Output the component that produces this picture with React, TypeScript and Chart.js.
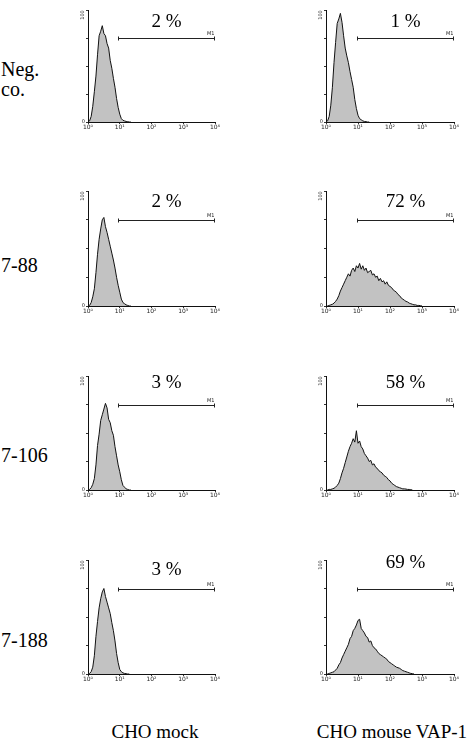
import React, { useEffect, useRef } from "react";
import { Chart, registerables } from "chart.js";

Chart.register(...registerables);

// ---- data ----
// channel bins: one value every binStep decades, starting at 10^0
const binStep = 0.05;
const xTickLabels = ["10⁰", "10¹", "10²", "10³", "10⁴"];
const yTickLabelTop = "100";
const gateLabel = "M1";
const gateStartDecade = 0.96;
const gateEndDecade = 4;
const gateLevel = 75;

const negCoMock = [0, 1, 5, 14, 27, 41, 60, 77, 81, 86, 79, 77, 70, 66, 55, 48, 39, 31, 21, 13, 7, 3, 1.5, 1, 0.5, 0.3, 0, 0];
const negCoVap = [0, 1, 5, 15, 31, 53, 71, 88, 92, 97, 89, 77, 66, 59, 53, 45, 38, 31, 20, 12, 6, 3, 2, 1, 0.5, 0.3, 0, 0];
const mab788Mock = [0, 0.5, 3, 8, 15, 29, 45, 58, 67, 75, 77, 69, 64, 58, 52, 46, 40, 33, 25, 18, 12, 6, 3, 2, 1, 0.5, 0, 0];
const mab788Vap = [0, 0, 0.5, 1, 1.5, 2.5, 4, 6, 9, 13, 16, 19, 22, 25, 28, 26, 31, 33, 30, 35, 33, 37, 32, 35, 31, 33, 29, 30, 31, 27, 28, 25, 26, 22, 24, 21, 22, 19, 21, 18, 17, 16, 14, 13, 12, 10, 9, 7, 6, 5, 4, 3.5, 2.5, 2, 1.5, 1, 1, 0.5, 0.5, 0.3, 0];
const mab7106Mock = [0, 0.5, 2, 5, 10, 22, 39, 49, 61, 66, 71, 76, 72, 62, 59, 52, 48, 38, 30, 22, 16, 9, 4, 2.5, 1, 0.5, 0, 0];
const mab7106Vap = [0, 0, 0.5, 0.5, 1, 1.5, 2.5, 4, 6, 10, 15, 19, 24, 29, 34, 38, 41, 45, 42, 52, 41, 43, 38, 36, 32, 30, 28, 25, 26, 22, 23, 20, 19, 17, 16, 15, 13, 12, 11, 9, 8, 6, 5, 4, 3, 2.5, 2, 1.5, 1, 1, 0.8, 0.5, 0.5, 0.3, 0];
const mab7188Mock = [0, 0.5, 2, 6, 16, 33, 46, 58, 66, 72, 75, 68, 63, 58, 53, 45, 38, 29, 18, 10, 4, 2, 1, 0.5, 0.3, 0, 0];
const mab7188Vap = [0, 0, 0.5, 1, 1.5, 2, 3.5, 5, 8, 10, 14, 17, 20, 23, 26, 31, 33, 38, 40, 43, 47, 48, 40, 38, 36, 33, 32, 28, 29, 25, 23, 22, 20, 18, 17, 16, 15, 14, 13, 11, 10, 9, 8, 7, 6, 5.5, 5, 4, 3, 2.5, 2, 1.5, 1, 0.5, 0.3, 0];

const rowLabels = [["Neg.", "co."], ["7-88"], ["7-106"], ["7-188"]];
const colLabels = ["CHO mock", "CHO mouse VAP-1"];
const panelSeries = [
  [negCoMock, negCoVap],
  [mab788Mock, mab788Vap],
  [mab7106Mock, mab7106Vap],
  [mab7188Mock, mab7188Vap],
];
const panelPercents = [
  ["2 %", "1 %"],
  ["2 %", "72 %"],
  ["3 %", "58 %"],
  ["3 %", "69 %"],
];
const percentLevels = [
  [89, 89],
  [90, 90],
  [94, 94],
  [91, 97],
];

// ---- layout (pixels of the plot areas) ----
const colLeft = [88, 326];
const colRight = [215, 454];
const rowTop = [10, 191, 376, 560];
const rowBottom = [122, 306, 490, 674];
const padL = 4, yAxisW = 12, padT = 24, padR = 12, xAxisH = 12, padB = 2;

function Panel({ row, col }: { row: number; col: number }) {
  const ref = useRef<HTMLCanvasElement | null>(null);
  const w = colRight[col] - colLeft[col] + padL + yAxisW + padR;
  const h = rowBottom[row] - rowTop[row] + padT + xAxisH + padB;
  useEffect(() => {
    if (!ref.current) return;
    const values = panelSeries[row][col];
    const pct = panelPercents[row][col];
    const pctLevel = percentLevels[row][col];
    const points = values.map((v, i) => ({ x: i * binStep, y: v }));
    const overlay = {
      id: "gateOverlay",
      afterDraw(chart: any) {
        const { ctx, scales, chartArea } = chart;
        const xs = scales.x, ys = scales.y;
        const x1 = Math.round(xs.getPixelForValue(gateStartDecade)) + 0.5;
        const x2 = Math.round(xs.getPixelForValue(gateEndDecade)) - 0.5;
        const gy = Math.round(ys.getPixelForValue(gateLevel)) + 0.5;
        ctx.save();
        ctx.strokeStyle = "#222";
        ctx.lineWidth = 1;
        ctx.beginPath();
        ctx.moveTo(x1, gy); ctx.lineTo(x2, gy);
        ctx.moveTo(x1, gy - 2); ctx.lineTo(x1, gy + 2);
        ctx.moveTo(x2, gy - 2); ctx.lineTo(x2, gy + 2);
        ctx.stroke();
        ctx.fillStyle = "#222";
        ctx.font = "5px 'DejaVu Sans'";
        ctx.textAlign = "right";
        ctx.textBaseline = "bottom";
        ctx.fillText(gateLabel, x2, gy - 2);
        ctx.font = "19px 'Liberation Serif'";
        ctx.textAlign = "center";
        ctx.textBaseline = "middle";
        ctx.fillStyle = "#000";
        ctx.fillText(pct, (x1 + x2) / 2, ys.getPixelForValue(pctLevel));
        // rotated "100" label at the top of the y axis
        ctx.save();
        ctx.translate(chartArea.left - 5, ys.getPixelForValue(100) + 5);
        ctx.rotate(-Math.PI / 2);
        ctx.font = "5px 'DejaVu Sans'";
        ctx.textAlign = "center";
        ctx.textBaseline = "middle";
        ctx.fillStyle = "#222";
        ctx.fillText(yTickLabelTop, 0, 0);
        ctx.restore();
        ctx.restore();
      },
    };
    const axisGrid = { display: true, drawOnChartArea: false, drawTicks: true, tickLength: 2, color: "#333", lineWidth: 1 };
    const chart = new Chart(ref.current, {
      type: "line",
      data: {
        datasets: [
          {
            data: points,
            fill: "origin",
            backgroundColor: "#c2c2c2",
            borderColor: "#111",
            borderWidth: 1,
            pointRadius: 0,
            tension: 0,
          },
        ],
      },
      options: {
        animation: false,
        responsive: false,
        events: [],
        layout: { padding: { left: padL, top: padT, right: padR, bottom: padB } },
        plugins: { legend: { display: false }, tooltip: { enabled: false } },
        scales: {
          x: {
            type: "linear",
            min: 0,
            max: 4,
            afterFit: (s: any) => { s.height = xAxisH; },
            ticks: {
              stepSize: 1,
              autoSkip: false,
              maxRotation: 0,
              minRotation: 0,
              padding: 0,
              color: "#222",
              font: { size: 6, family: "'DejaVu Sans'" },
              callback: (v: any) => xTickLabels[Math.round(v)] ?? "",
            },
            grid: axisGrid,
            border: { display: true, color: "#111", width: 1 },
          },
          y: {
            min: 0,
            max: 100,
            afterFit: (s: any) => { s.width = yAxisW; },
            ticks: {
              stepSize: 25,
              padding: 1,
              color: "#222",
              font: { size: 5, family: "'DejaVu Sans'" },
              callback: (v: any) => (v === 0 ? "0" : ""),
            },
            grid: axisGrid,
            border: { display: true, color: "#111", width: 1 },
          },
        },
      } as any,
      plugins: [overlay],
    });
    return () => chart.destroy();
  }, [row, col]);
  return (
    <canvas
      ref={ref}
      width={w}
      height={h}
      style={{
        position: "absolute",
        left: colLeft[col] - padL - yAxisW,
        top: rowTop[row] - padT,
        width: w,
        height: h,
      }}
    />
  );
}

const rowLabelTops = [59, 255, 445, 630];
const colLabelCenters = [155, 392];

export default function App() {
  const serif = "'Liberation Serif', 'Times New Roman', serif";
  return (
    <div style={{ position: "absolute", left: 0, top: 0, width: 475, height: 741, background: "#fff", overflow: "hidden" }}>
      {panelSeries.map((r, ri) =>
        r.map((_, ci) => <Panel key={`${ri}-${ci}`} row={ri} col={ci} />)
      )}
      {rowLabels.map((lines, i) => (
        <div
          key={i}
          style={{ position: "absolute", left: 1, top: rowLabelTops[i], fontFamily: serif, fontSize: 20, lineHeight: "20px", color: "#000", whiteSpace: "nowrap" }}
        >
          {lines.map((l, j) => (
            <div key={j}>{l}</div>
          ))}
        </div>
      ))}
      {colLabels.map((t, i) => (
        <div
          key={i}
          style={{ position: "absolute", left: colLabelCenters[i] - 100, width: 200, top: 722, textAlign: "center", fontFamily: serif, fontSize: 19, lineHeight: "20px", color: "#000", whiteSpace: "nowrap" }}
        >
          {t}
        </div>
      ))}
    </div>
  );
}
